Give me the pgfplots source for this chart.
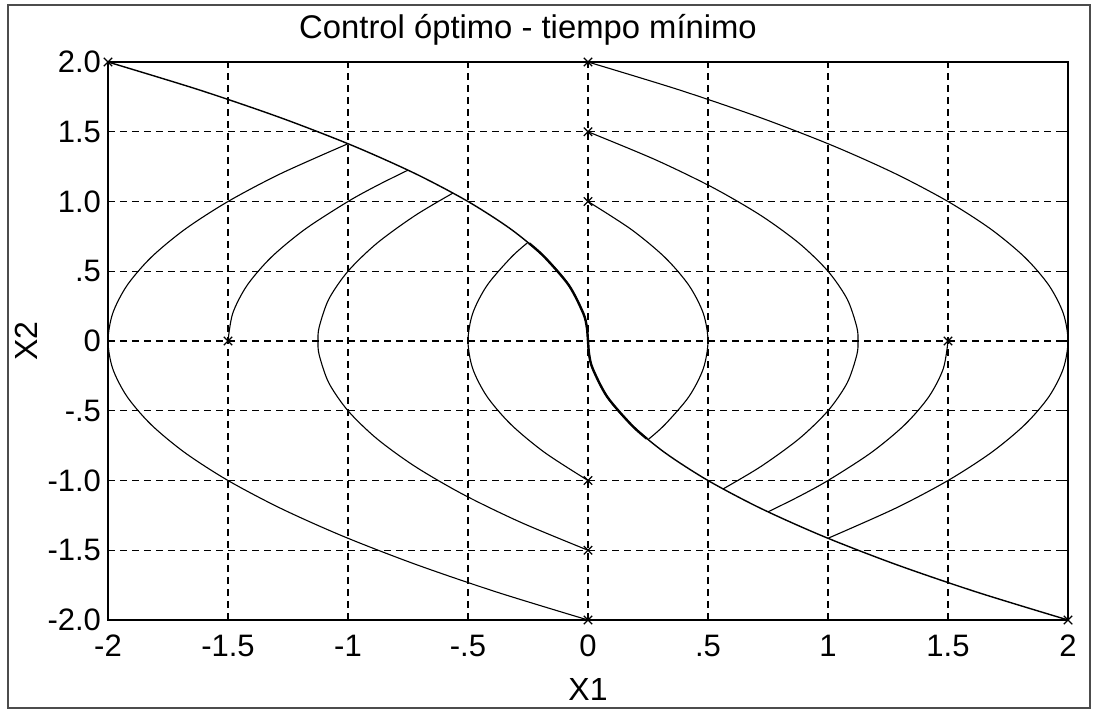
\documentclass[border=0pt]{standalone}
\usepackage{fontspec}
\setmainfont{Liberation Sans}
\usepackage{pgfplots}
\pgfplotsset{compat=1.18}
\begin{document}
\begin{tikzpicture}
\begin{axis}[
  name=ax,
  scale only axis,
  width=480pt, height=279pt,
  xmin=-2, xmax=2, ymin=-2, ymax=2,
  xtick={-2,-1.5,-1,-0.5,0,0.5,1,1.5,2},
  xticklabels={-2,-1.5,-1,-.5,0,.5,1,1.5,2},
  ytick={-2,-1.5,-1,-0.5,0,0.5,1,1.5,2},
  yticklabels={-2.0,-1.5,-1.0,-.5,0,.5,1.0,1.5,2.0},
  tick label style={font=\fontsize{15.5}{17}\selectfont},
  xticklabel style={yshift=-4pt},
  label style={font=\fontsize{16}{18}\selectfont},
  title style={font=\fontsize{16.4}{18}\selectfont, yshift=-1pt, xshift=-30pt},
  title={Control óptimo - tiempo mínimo},
  xlabel={X1}, ylabel={X2},
  xlabel style={yshift=-4pt},
  ylabel style={yshift=-2pt},
  grid=major,
  major grid style={black, line width=0.6pt, dash pattern=on 3.5pt off 2.5pt},
  axis line style={line width=0.9pt},
  tick style={black, line width=0.6pt},
  major tick length=3pt,
  every axis plot/.append style={black, line width=0.55pt},
]
% switching curve
\addplot[smooth, line width=0.7pt] coordinates {(-2,2) (-1.62,1.8) (-1.28,1.6) (-0.98,1.4) (-0.72,1.2) (-0.5,1.0) (-0.32,0.8) (-0.18,0.6) (-0.08,0.4) (-0.02,0.2) (-0.005,0.1) (0,0) (0.005,-0.1) (0.02,-0.2) (0.08,-0.4) (0.18,-0.6) (0.32,-0.8) (0.5,-1.0) (0.72,-1.2) (0.98,-1.4) (1.28,-1.6) (1.62,-1.8) (2,-2)};
\addplot[smooth, line width=1.2pt] coordinates {(-0.245,0.7) (-0.18,0.6) (-0.08,0.4) (-0.02,0.2) (-0.005,0.1) (0,0) (0.005,-0.1) (0.02,-0.2) (0.08,-0.4) (0.18,-0.6) (0.245,-0.7)};
% from (0,2)
\addplot[smooth] coordinates {(0,2) (0.38,1.8) (0.72,1.6) (1.02,1.4) (1.28,1.2) (1.5,1.0) (1.68,0.8) (1.82,0.6) (1.92,0.4) (1.98,0.2) (2,0) (1.98,-0.2) (1.92,-0.4) (1.82,-0.6) (1.68,-0.8) (1.5,-1.0) (1.28,-1.2) (1.0,-1.4142)};
% from (0,1.5)
\addplot[smooth] coordinates {(0,1.5) (0.28,1.3) (0.52,1.1) (0.72,0.9) (0.88,0.7) (1.0,0.5) (1.08,0.3) (1.12,0.1) (1.125,0) (1.12,-0.1) (1.08,-0.3) (1.0,-0.5) (0.88,-0.7) (0.72,-0.9) (0.5625,-1.0607)};
% from (0,1)
\addplot[smooth] coordinates {(0,1) (0.18,0.8) (0.32,0.6) (0.42,0.4) (0.48,0.2) (0.5,0) (0.48,-0.2) (0.42,-0.4) (0.32,-0.6) (0.25,-0.7071)};
% from (1.5,0)
\addplot[smooth] coordinates {(1.5,0) (1.48,-0.2) (1.42,-0.4) (1.32,-0.6) (1.18,-0.8) (1.0,-1.0) (0.875,-1.118) (0.75,-1.2247)};
% from (0,-2)
\addplot[smooth] coordinates {(0,-2) (-0.38,-1.8) (-0.72,-1.6) (-1.02,-1.4) (-1.28,-1.2) (-1.5,-1.0) (-1.68,-0.8) (-1.82,-0.6) (-1.92,-0.4) (-1.98,-0.2) (-2,0) (-1.98,0.2) (-1.92,0.4) (-1.82,0.6) (-1.68,0.8) (-1.5,1.0) (-1.28,1.2) (-1.0,1.4142)};
% from (0,-1.5)
\addplot[smooth] coordinates {(0,-1.5) (-0.28,-1.3) (-0.52,-1.1) (-0.72,-0.9) (-0.88,-0.7) (-1.0,-0.5) (-1.08,-0.3) (-1.12,-0.1) (-1.125,0) (-1.12,0.1) (-1.08,0.3) (-1.0,0.5) (-0.88,0.7) (-0.72,0.9) (-0.5625,1.0607)};
% from (0,-1)
\addplot[smooth] coordinates {(0,-1) (-0.18,-0.8) (-0.32,-0.6) (-0.42,-0.4) (-0.48,-0.2) (-0.5,0) (-0.48,0.2) (-0.42,0.4) (-0.32,0.6) (-0.25,0.7071)};
% from (-1.5,0)
\addplot[smooth] coordinates {(-1.5,0) (-1.48,0.2) (-1.42,0.4) (-1.32,0.6) (-1.18,0.8) (-1.0,1.0) (-0.875,1.118) (-0.75,1.2247)};
% start points
\addplot[only marks, mark=x, mark size=3pt, line width=0.6pt] coordinates {(-2,2) (0,2) (0,1.5) (0,1) (0,-1) (0,-1.5) (0,-2) (-1.5,0) (1.5,0) (2,-2)};
\end{axis}
\pgfresetboundingbox
\path ([shift={(-54pt,-46pt)}]ax.south west) rectangle ([shift={(14pt,31pt)}]ax.north east);
\draw[black!70, line width=0.6pt] ([shift={(-50pt,-44pt)}]ax.south west) rectangle ([shift={(11pt,28.5pt)}]ax.north east);
\end{tikzpicture}
\end{document}
